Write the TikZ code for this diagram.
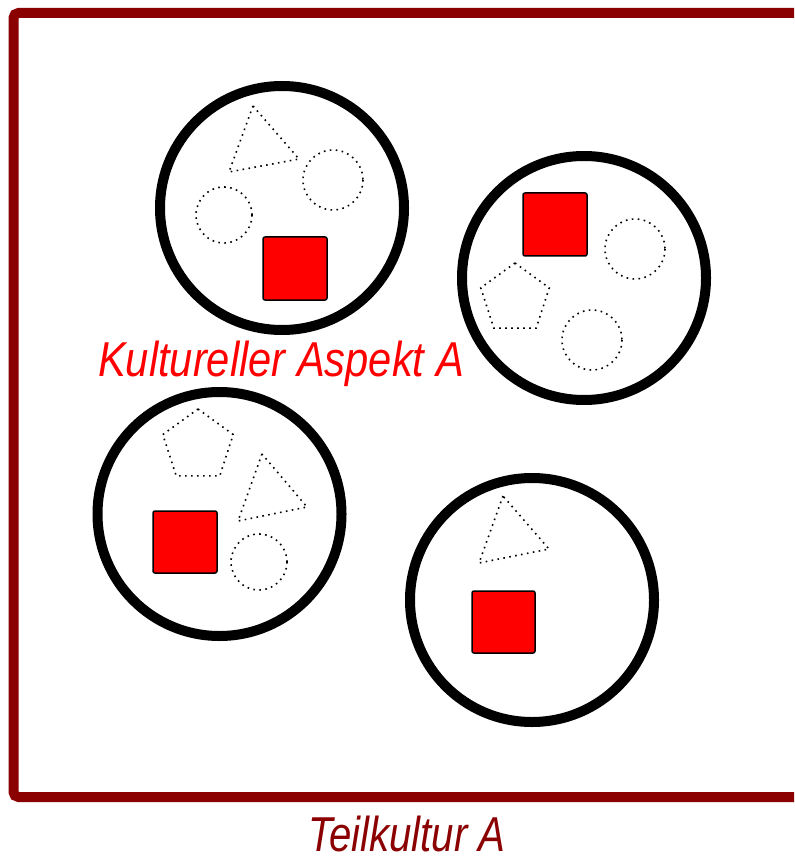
\documentclass[tikz,border=0pt]{standalone}
\usepackage{fontspec}
\setmainfont{Liberation Sans}
\definecolor{framered}{RGB}{139,0,0}
\begin{document}
\begin{tikzpicture}[x=1pt,y=-1pt,
  ring/.style={draw=black,line width=10pt},
  dots/.style={draw=black,line width=1.6pt,dash pattern=on 1.6pt off 4.4pt},
  redsq/.style={fill=red,draw=black,line width=1.5pt,rounded corners=2pt},
  frame/.style={draw=framered,line width=10pt,rounded corners=5pt},
  lbl/.style={inner sep=0pt,anchor=base,font=\fontsize{49}{58}\selectfont\itshape}]
\useasboundingbox (0,0) rectangle (794,858);
% frame
\draw[frame] (794,13) -- (13.5,13) -- (13.5,797) -- (794,797);
% group 1
\draw[ring] (282,208) circle[radius=122];
\draw[dots] (253,106) -- (229,172) -- (299,159) -- cycle;
\draw[dots] (333,180) circle[radius=30];
\draw[dots] (224,215) circle[radius=28];
\draw[redsq] (263,237) rectangle (327,300);
% group 2
\draw[ring] (584,278) circle[radius=122];
\draw[redsq] (523,193) rectangle (587,256);
\draw[dots] (635,249) circle[radius=30];
\draw[dots] (592,340) circle[radius=30];
\draw[dots,shift={(515,299)}] (-90:36) -- (-18:36) -- (54:36) -- (126:36) -- (198:36) -- cycle;
% group 3
\draw[ring] (219.5,514) circle[radius=122];
\draw[dots,shift={(198,446)}] (-90:37) -- (-18:37) -- (54:37) -- (126:37) -- (198:37) -- cycle;
\draw[dots] (262,454) -- (238,521) -- (307,507) -- cycle;
\draw[redsq] (153,511) rectangle (217,573);
\draw[dots] (259,562) circle[radius=28];
% group 4
\draw[ring] (532,600) circle[radius=122];
\draw[dots] (503,496) -- (479,563) -- (549,549) -- cycle;
\draw[redsq] (472,591) rectangle (535,653);
% labels
\node[lbl,text=red] (aspekt) at (281,376) {\scalebox{0.85}[1]{Kultureller Aspekt A}};
\node[lbl,text=framered] (teil) at (407,851) {\scalebox{0.82}[1]{Teilkultur A}};
\end{tikzpicture}
\end{document}
